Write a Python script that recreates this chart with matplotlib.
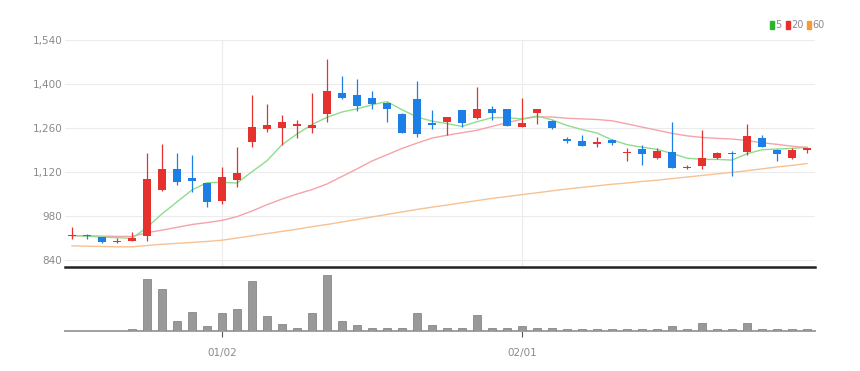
import matplotlib
matplotlib.use("Agg")
import matplotlib.pyplot as plt
import numpy as np

# ---- data ----
opens  = [915, 920, 912, 896, 901, 916, 1063, 1131, 1100, 1084,
          1029, 1094, 1216, 1256, 1261, 1266, 1261, 1304, 1370, 1364,
          1354, 1338, 1306, 1352, 1275, 1280, 1317, 1291, 1320, 1320,
          1264, 1308, 1283, 1226, 1219, 1209, 1221, 1180, 1192, 1163,
          1184, 1132, 1140, 1163, 1181, 1185, 1227, 1190, 1164, 1190]
highs  = [945, 922, 913, 910, 930, 1180, 1209, 1179, 1174, 1086,
          1135, 1200, 1365, 1336, 1301, 1285, 1370, 1481, 1425, 1415,
          1377, 1343, 1308, 1409, 1317, 1296, 1318, 1389, 1330, 1322,
          1354, 1322, 1286, 1232, 1237, 1232, 1225, 1195, 1206, 1195,
          1280, 1142, 1253, 1184, 1188, 1272, 1237, 1192, 1195, 1197]
lows   = [908, 907, 895, 895, 900, 902, 1060, 1078, 1057, 1010,
          1018, 1071, 1198, 1248, 1206, 1227, 1243, 1280, 1351, 1315,
          1322, 1280, 1243, 1230, 1256, 1237, 1262, 1289, 1287, 1265,
          1263, 1272, 1257, 1211, 1203, 1200, 1205, 1156, 1142, 1162,
          1132, 1131, 1129, 1162, 1107, 1174, 1198, 1156, 1162, 1180]
closes = [920, 915, 897, 900, 911, 1098, 1128, 1087, 1090, 1026,
          1105, 1118, 1264, 1269, 1280, 1272, 1271, 1377, 1354, 1331,
          1336, 1322, 1245, 1241, 1268, 1294, 1277, 1320, 1307, 1267,
          1275, 1320, 1259, 1218, 1204, 1217, 1212, 1184, 1177, 1188,
          1134, 1137, 1163, 1179, 1177, 1234, 1200, 1176, 1190, 1195]
ma5  = [918, 916, 913, 911, 909, 944, 987, 1025, 1063, 1086,
        1087, 1085, 1121, 1156, 1207, 1241, 1271, 1294, 1311, 1321,
        1334, 1344, 1318, 1295, 1282, 1274, 1265, 1280, 1293, 1293,
        1289, 1298, 1286, 1268, 1255, 1244, 1222, 1207, 1199, 1192,
        1179, 1164, 1160, 1160, 1158, 1178, 1191, 1193, 1195, 1199]
ma20 = [917, 917, 916, 915, 915, 927, 935, 944, 953, 959,
        966, 978, 996, 1016, 1034, 1050, 1064, 1082, 1106, 1130,
        1155, 1175, 1195, 1212, 1228, 1237, 1245, 1253, 1265, 1277,
        1288, 1296, 1295, 1291, 1289, 1287, 1283, 1273, 1263, 1253,
        1243, 1235, 1230, 1227, 1225, 1220, 1213, 1208, 1202, 1198]
ma60 = [885, 884, 883, 882, 882, 886, 890, 893, 896, 899,
        903, 910, 917, 924, 931, 938, 946, 953, 961, 969,
        977, 985, 993, 1001, 1008, 1015, 1022, 1029, 1036, 1042,
        1048, 1054, 1060, 1066, 1071, 1076, 1081, 1085, 1090, 1094,
        1099, 1104, 1109, 1114, 1119, 1124, 1130, 1136, 1141, 1147]
volume = [0, 0, 0, 0, 2.5, 52, 42, 10, 19, 5,
          18, 22, 50, 15, 7, 3.5, 18, 56, 10, 6,
          3.5, 3.5, 3.5, 18, 6, 3.5, 3.5, 16, 3.5, 3.5,
          5, 3.5, 3.5, 2.5, 2.5, 2.5, 2.5, 2.5, 2.5, 2.5,
          5, 2.5, 8, 2.5, 2.5, 8, 2.5, 2.5, 2.5, 2.5]
tick_idx = [10, 30]
tick_labels = ["01/02", "02/01"]
yticks = [840, 980, 1120, 1260, 1400, 1540]
legend_labels = ["5", "20", "60"]

UP = "#e6322f"
DOWN = "#1b7fe6"
C5, C20, C60 = "#8fdc8f", "#f5a3aa", "#f8c191"
LEG = ["#2cb52c", "#e53030", "#f59a34"]

plt.rcParams['font.family'] = ['Liberation Sans Narrow', 'DejaVu Sans']

fig = plt.figure(figsize=(8.6, 3.71), dpi=100)
W, H = 860, 371
ax = fig.add_axes([65 / W, (H - 267) / H, 750 / W, (267 - 40) / H])
axv = fig.add_axes([65 / W, (H - 331) / H, 750 / W, (331 - 270) / H])

x = np.arange(len(closes))
o = np.array(opens); c = np.array(closes)
hi = np.array(highs); lo = np.array(lows)
up = c >= o
cols = np.where(up, UP, DOWN)

# grid
for yv in yticks:
    ax.axhline(yv, color="#ececec", lw=0.8, zorder=0)
for t in tick_idx:
    ax.axvline(t, color="#ececec", lw=0.8, zorder=0)

# MA lines
ax.plot(x, ma60, color=C60, lw=1.0, zorder=1)
ax.plot(x, ma20, color=C20, lw=1.0, zorder=1)
ax.plot(x, ma5, color=C5, lw=1.0, zorder=1)

# candles
ax.vlines(x, lo, hi, colors=cols, lw=0.9, zorder=2)
body_bottom = np.minimum(o, c)
body_h = np.maximum(np.abs(c - o), 3)
ax.bar(x, body_h, bottom=body_bottom, width=0.48, color=cols, lw=0, zorder=3)

ax.set_xlim(-0.47, 49.53)
ax.set_ylim(840 - 7 * 140 / 44, 1540)
ax.set_yticks(yticks)
ax.set_yticklabels([f"{v:,}" for v in yticks], color="#8a8a8a", fontsize=7.5)
ax.tick_params(axis="y", length=0, pad=2)
ax.set_xticks([])
for s in ["top", "right", "left"]:
    ax.spines[s].set_visible(False)
ax.spines["bottom"].set_color("#222222")
ax.spines["bottom"].set_linewidth(1.8)

# volume
axv.bar(x, volume, width=0.52, color="#999999", edgecolor="#7a7a7a", lw=0.5, zorder=3)
axv.set_xlim(-0.47, 49.53)
axv.set_ylim(0, 61)
axv.set_yticks([])
axv.set_xticks(tick_idx)
axv.set_xticklabels(tick_labels, color="#8a8a8a", fontsize=7.5)
axv.tick_params(axis="x", length=4, width=0.8, color="#555555", pad=8)
for s in ["top", "right", "left"]:
    axv.spines[s].set_visible(False)
axv.spines["bottom"].set_color("#a0a0a0")
axv.spines["bottom"].set_linewidth(1.4)

# legend
lx = 770
for lab, col in zip(legend_labels, LEG):
    fig.patches.append(plt.Rectangle((lx / W, (H - 29) / H), 4 / W, 8 / H,
                                     transform=fig.transFigure, color=col))
    fig.text((lx + 5) / W, (H - 25) / H, lab, color="#8a8a8a", fontsize=7,
             va="center", ha="left")
    lx += 7 + 5 * len(lab) + 4

fig.savefig("out.png", dpi=100)
